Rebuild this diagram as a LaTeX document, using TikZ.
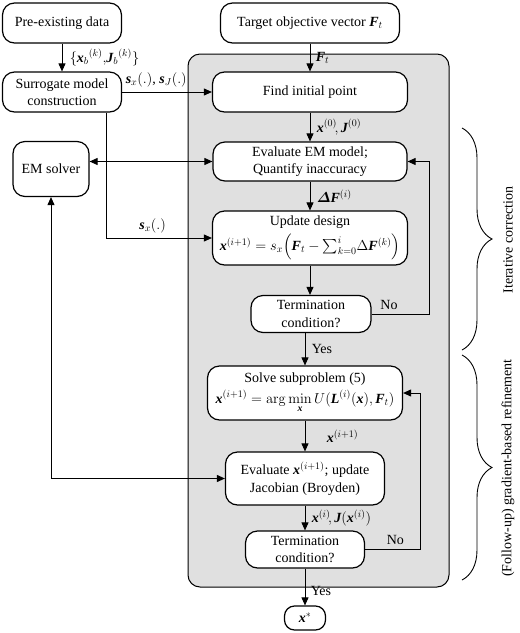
\documentclass[tikz,border=0pt]{standalone}
\usepackage{amsmath}
\usepackage{bm}
\usepackage[no-math]{fontspec}
\setmainfont{Liberation Serif}
\usetikzlibrary{arrows.meta,decorations.pathreplacing}
\def\fs{\fontsize{14}{17.5}\selectfont}
\newcommand\bv[1]{\text{\bfseries\itshape #1}}
\tikzset{my box/.style={draw,line width=1.2pt,rounded corners=#1,fill=white,align=center,inner sep=0pt},
  my box/.default=12pt,
  my arrow/.style={line width=0.9pt,-{Triangle[length=8pt,width=7pt]}},
  my both/.style={line width=0.9pt,{Triangle[length=8pt,width=7pt]}-{Triangle[length=8pt,width=7pt]}},
  my brace/.style={decorate,decoration={brace,amplitude=30pt},line width=0.9pt}}

\begin{document}
\begin{tikzpicture}[x=1pt,y=-1pt,font=\fs]
\useasboundingbox (0,0) rectangle (520,633);
% loop frame
\draw[line width=1pt,fill=black!12,rounded corners=12pt] (188,54) rectangle (449,587);
% boxes
\node[my box,minimum width=119pt,minimum height=40pt] (pre)    at (62,23)   {Pre-existing data};
\node[my box,minimum width=179pt,minimum height=40pt] (target) at (310,23)  {Target objective vector $\bv{F}_t$};
\node[my box,minimum width=119pt,minimum height=40pt] (surr)   at (62,92)   {Surrogate model\\construction};
\node[my box,minimum width=195pt,minimum height=40pt] (find)   at (310,92)  {Find initial point};
\node[my box,minimum width=76pt,minimum height=55pt]  (em)     at (51,169)  {EM solver};
\node[my box,minimum width=194pt,minimum height=39pt] (eval)   at (310,161.5) {Evaluate EM model;\\Quantify inaccuracy};
\node[my box,minimum width=195pt,minimum height=54pt] (upd)    at (310,238) {Update design\\[4pt]$\bv{x}^{(i+1)}=s_x\Bigl(\bv{F}_t-{\textstyle\sum\nolimits_{k=0}^{i}}\Delta\bv{F}^{(k)}\Bigr)$};
\node[my box,minimum width=120pt,minimum height=37pt] (term1)  at (311,314) {Termination\\condition?};
\node[my box,minimum width=195pt,minimum height=54pt] (solve)  at (305,393) {Solve subproblem (5)\\[3pt]$\bv{x}^{(i+1)}=\arg\min\limits_{\bv{x}}U(\bv{L}^{(i)}(\bv{x}),\bv{F}_t)$};
\node[my box,minimum width=159pt,minimum height=53pt] (evalx)  at (305,478.5) {Evaluate $\bv{x}^{(i+1)}$; update\\Jacobian (Broyden)};
\node[my box,minimum width=119pt,minimum height=37pt] (term2)  at (305,549.5) {Termination\\condition?};
\node[my box=10pt,minimum width=41pt,minimum height=24pt] (xs) at (305,618) {$\bv{x}^*$};
% arrows
\draw[my arrow] (pre) -- node[right=4pt]{$\{\bv{x}_b{}^{(k)},\!\bv{J}_b{}^{(k)}\}$} (surr);
\draw[my arrow] (surr) -- node[above=1pt,pos=0.38]{$\bv{s}_x(.)$, $\bv{s}_J(.)$} (find);
\draw[my arrow] (target) -- node[right=2pt]{$\bv{F}_t$} (find);
\draw[my arrow] (find) -- node[right=3pt]{$\bv{x}^{(0)}\!,\bv{J}^{(0)}$} (eval);
\draw[my both] (em.east |- eval.west) -- (eval.west);
\draw[my arrow] ([xshift=44pt]surr.south) |- node[pos=0.72,above=1pt]{$\bv{s}_x(.)$} (upd.west);
\draw[my arrow] (eval) -- node[right=3pt]{$\bm{\varDelta}\bv{F}^{(i)}$} (upd);
\draw[my arrow] (upd) -- (term1.north -| upd);
\draw[my arrow] (term1.east) -- node[pos=0.3,above=1pt]{No} ++(58,0) |- (eval.east);
\draw[my arrow] (term1.south -| solve) -- node[right=3pt]{Yes} (solve);
\draw[my arrow] (solve) -- node[right=18pt]{$\bv{x}^{(i+1)}$} (evalx);
\draw[my both] (em.south) |- (evalx.west);
\draw[my arrow] (evalx) -- node[right=3pt]{$\bv{x}^{(i)}\!,\bv{J}(\bv{x}^{(i)})$} (term2);
\draw[my arrow] (term2.east) -- node[pos=0.55,above=1pt]{No} ++(55,0) |- (solve.east);
\draw[my arrow] (term2) -- node[right=2pt,pos=0.6]{Yes} (xs);
% braces
\draw[my brace] (462,128) -- (462,350);
\draw[my brace] (462,355) -- (462,580);
\node[rotate=90] (lab1) at (508,240) {Iterative correction};
\node[rotate=90] (lab2) at (508,468) {(Follow-up) gradient-based refinement};
\end{tikzpicture}
\end{document}
